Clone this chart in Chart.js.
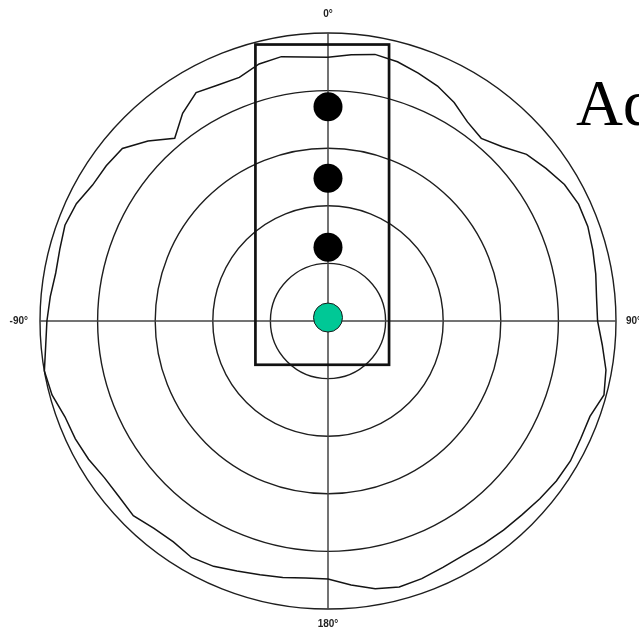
<!DOCTYPE html>
<html>
<head>
<meta charset="utf-8">
<script src="https://cdn.jsdelivr.net/npm/chart.js@4.4.1/dist/chart.umd.min.js"></script>
<style>
  html, body { margin: 0; padding: 0; background: #fff; overflow: hidden; }
  canvas { display: block; }
</style>
</head>
<body>
<canvas id="pattern" width="639" height="632"></canvas>
<script>
// Azimuth angles (degrees, clockwise from 0° at top)
const angles = [
  0, 5, 10, 15, 20, 25, 30, 35, 40, 45, 50, 55,
  60, 65, 70, 75, 80, 85, 90, 95, 100, 105, 110, 115,
  120, 125, 130, 135, 140, 145, 150, 155, 160, 165, 170, 175,
  180, 185, 190, 195, 200, 205, 210, 215, 220, 225, 230, 235,
  240, 245, 250, 255, 260, 265, 270, 275, 280, 285, 290, 295,
  300, 305, 310, 315, 320, 325, 330, 335, 340, 345, 350, 355
];

// Measured radiation pattern, relative level in dB
const patternDb = [
  -2.1, -1.8, -1.5, -1.7, -2.1, -2.5, -3.1, -3.9, -4.3, -3.6, -2.5, -1.9,
  -1.3, -1.0, -1.0, -1.2, -1.4, -1.6, -1.6, -1.1, -0.5, -0.2, -0.8, -0.8,
  -0.7, -0.8, -1.0, -1.2, -1.3, -1.4, -1.5, -1.4, -1.2, -1.1, -1.4, -2.0,
  -2.6, -2.6, -2.4, -2.2, -1.9, -1.5, -1.3, -1.6, -1.5, -1.1, -1.3, -1.3,
  -1.0, -0.8, -0.7, -0.2, 0.0, -0.4, -0.6, -0.8, -1.0, -0.9, -0.7, -0.9,
  -1.4, -1.5, -1.7, -2.9, -4.3, -3.0, -2.1, -2.4, -2.5, -1.9, -1.7, -2.0
];

// Radial scale (dB)
const scaleMin = -25;
const scaleMax = 0;
const scaleStep = 5;

// Array elements along the 0° direction, and the feed at the centre
const elementLevels = [-6.4, -12.6, -18.6];
const feedLevel = -24.7;

// Outline of the array enclosure, as levels along the four cardinal directions
const boxTopLevel = -1.0;     // toward 0°
const boxRightLevel = -19.7;  // toward 90°
const boxBottomLevel = -21.2; // toward 180°
const boxLeftLevel = -18.7;   // toward 270° (-90°)

// Cardinal direction labels
const cardinalAngles = [0, 90, 180, 270];
const cardinalLabels = ['0°', '90°', '180°', '-90°'];

// Heading text
const headingText = 'Ad';

const onlyAt = (idx, v) => angles.map((a, i) => (i === idx ? v : null));
const idx0 = angles.indexOf(0);

const enclosurePlugin = {
  id: 'enclosure',
  beforeDatasetsDraw(chart) {
    const s = chart.scales.r;
    const ctx = chart.ctx;
    const top = s.getPointPositionForValue(angles.indexOf(0), boxTopLevel).y;
    const right = s.getPointPositionForValue(angles.indexOf(90), boxRightLevel).x;
    const bottom = s.getPointPositionForValue(angles.indexOf(180), boxBottomLevel).y;
    const left = s.getPointPositionForValue(angles.indexOf(270), boxLeftLevel).x;
    ctx.save();
    ctx.strokeStyle = '#111';
    ctx.lineWidth = 2.7;
    ctx.strokeRect(left, top, right - left, bottom - top);
    ctx.restore();
  }
};

const labelsPlugin = {
  id: 'cardinalLabels',
  afterDraw(chart) {
    const s = chart.scales.r;
    const ctx = chart.ctx;
    const placement = [
      { gap: 19, align: 'center' },
      { gap: 10, align: 'left' },
      { gap: 15, align: 'center' },
      { gap: 12, align: 'right' }
    ];
    ctx.save();
    ctx.fillStyle = '#222';
    ctx.font = 'bold 10px "Liberation Sans", Arial, sans-serif';
    ctx.textBaseline = 'middle';
    cardinalAngles.forEach((a, k) => {
      const p = s.getPointPosition(angles.indexOf(a), s.drawingArea + placement[k].gap);
      ctx.textAlign = placement[k].align;
      ctx.fillText(cardinalLabels[k], p.x, p.y);
    });
    // Heading
    ctx.fillStyle = '#000';
    ctx.font = '65px "Liberation Serif", "Times New Roman", serif';
    ctx.textAlign = 'left';
    ctx.textBaseline = 'alphabetic';
    ctx.fillText(headingText, 576, 125);
    ctx.restore();
  }
};

const datasets = [];
datasets.push({
  label: 'Feed',
  data: onlyAt(idx0, feedLevel),
  showLine: false,
  pointRadius: 14.5,
  pointBackgroundColor: '#00c896',
  pointBorderColor: '#1a1a1a',
  pointBorderWidth: 1
});
elementLevels.forEach((v, k) => {
  datasets.push({
    label: 'Element ' + (k + 1),
    data: onlyAt(idx0, v),
    showLine: false,
    pointRadius: 14.5,
    pointBackgroundColor: '#000',
    pointBorderColor: '#000',
    pointBorderWidth: 0
  });
});
datasets.push({
  label: 'Pattern',
  data: patternDb,
  borderColor: '#141414',
  borderWidth: 1.5,
  fill: false,
  tension: 0,
  pointRadius: 0
});

new Chart(document.getElementById('pattern'), {
  type: 'radar',
  data: { labels: angles.map(a => a + '°'), datasets },
  options: {
    responsive: false,
    animation: false,
    events: [],
    layout: { padding: { left: 40, right: 23, top: 33, bottom: 23 } },
    plugins: { legend: { display: false }, tooltip: { enabled: false } },
    scales: {
      r: {
        min: scaleMin,
        max: scaleMax,
        ticks: { stepSize: scaleStep, display: false },
        pointLabels: { display: false },
        grid: {
          circular: true,
          color: '#1e1e1e',
          lineWidth: (c) => (c.index === 0 ? 0 : 1.4)
        },
        angleLines: {
          color: '#444',
          lineWidth: (c) => (cardinalAngles.includes(angles[c.index]) ? 1.5 : 0)
        }
      }
    }
  },
  plugins: [enclosurePlugin, labelsPlugin]
});
</script>
</body>
</html>
